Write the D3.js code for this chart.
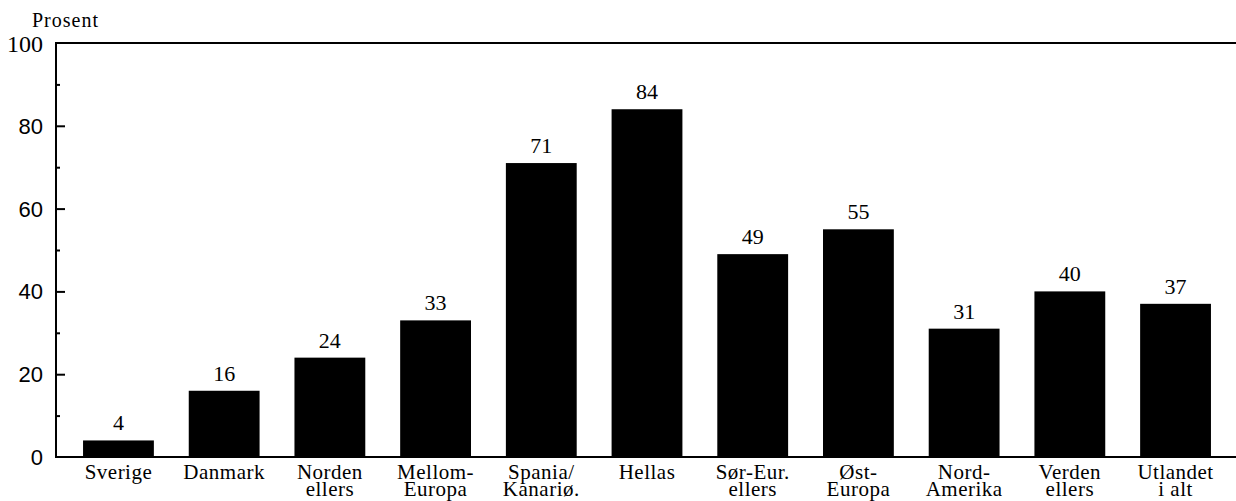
<!DOCTYPE html>
<meta charset="utf-8">
<head>
    <script src="https://cdnjs.cloudflare.com/ajax/libs/d3/7.8.5/d3.min.js"></script>
    <style>
    body { margin: 0; background: #fff; }
    .bar { fill: #000; }
    .serif { font-family: "Liberation Serif", "Times New Roman", serif; fill: #000; }
    .sans { font-family: "Liberation Sans", Arial, sans-serif; fill: #000; }
    </style>
</head>
<body>
    <script>
    // data
    var categories = [
        ["Sverige"], ["Danmark"], ["Norden", "ellers"], ["Mellom-", "Europa"],
        ["Spania/", "Kanariø."], ["Hellas"], ["Sør-Eur.", "ellers"], ["Øst-", "Europa"],
        ["Nord-", "Amerika"], ["Verden", "ellers"], ["Utlandet", "i alt"]
    ];
    var values = [4, 16, 24, 33, 71, 84, 49, 55, 31, 40, 37];
    var yTicks = [0, 20, 40, 60, 80, 100];
    var yMinor = [10, 30, 50, 70, 90];
    var yTitle = "Prosent";

    // plot frame (window.top is reserved, so use a margin object)
    var W = 1236, H = 501;
    var frame = { left: 56, right: 1236, top: 43, bottom: 457 };

    var svg = d3.select("body").append("svg")
        .attr("width", W)
        .attr("height", H);

    var keys = categories.map(function(d, i) { return i; });

    // set the ranges
    var x = d3.scaleBand()
        .domain(keys)
        .range([65.6, 1228.4])
        .paddingInner(0.33)
        .paddingOuter(0.165);
    var y = d3.scaleLinear()
        .domain([0, 100])
        .range([frame.bottom, frame.top]);

    // bars
    svg.selectAll(".bar")
        .data(values)
        .enter().append("rect")
        .attr("class", "bar")
        .attr("x", function(d, i) { return x(i); })
        .attr("width", x.bandwidth())
        .attr("y", function(d) { return y(d); })
        .attr("height", function(d) { return frame.bottom - y(d); });

    // value labels
    svg.selectAll(".val")
        .data(values)
        .enter().append("text")
        .attr("class", "serif")
        .attr("x", function(d, i) { return x(i) + x.bandwidth() / 2; })
        .attr("y", function(d) { return y(d) - 10; })
        .attr("text-anchor", "middle")
        .style("font-size", "22px")
        .text(function(d) { return d; });

    // frame: left axis, top line, bottom line
    svg.append("line")
        .attr("x1", frame.left).attr("x2", frame.left)
        .attr("y1", frame.top - 1).attr("y2", frame.bottom + 1)
        .attr("stroke", "#000").attr("stroke-width", 2);
    svg.append("line")
        .attr("x1", frame.left - 1).attr("x2", frame.right)
        .attr("y1", frame.top).attr("y2", frame.top)
        .attr("stroke", "#000").attr("stroke-width", 2);
    svg.append("line")
        .attr("x1", frame.left - 1).attr("x2", frame.right)
        .attr("y1", frame.bottom).attr("y2", frame.bottom)
        .attr("stroke", "#000").attr("stroke-width", 2);

    // y axis, ticks drawn inward
    var yAxis = svg.append("g")
        .attr("transform", "translate(" + frame.left + ",0)")
        .call(d3.axisRight(y).tickValues(yTicks.slice(1, 5)).tickSize(9).tickFormat(""));
    yAxis.select(".domain").remove();
    yAxis.selectAll("line").attr("stroke", "#000").attr("stroke-width", 2);

    var yAxisMinor = svg.append("g")
        .attr("transform", "translate(" + frame.left + ",0)")
        .call(d3.axisRight(y).tickValues(yMinor).tickSize(4).tickFormat(""));
    yAxisMinor.select(".domain").remove();
    yAxisMinor.selectAll("line").attr("stroke", "#000").attr("stroke-width", 2);

    // tick labels
    svg.selectAll(".ytl")
        .data(yTicks)
        .enter().append("text")
        .attr("class", function(d) { return d === 100 ? "serif" : "sans"; })
        .attr("x", 43)
        .attr("y", function(d) { return y(d); })
        .attr("dy", "0.36em")
        .attr("text-anchor", "end")
        .style("font-size", function(d) { return d === 100 ? "24px" : "22px"; })
        .text(function(d) { return d; });

    // category labels
    var cat = svg.selectAll(".cat")
        .data(categories)
        .enter().append("text")
        .attr("class", "serif")
        .attr("text-anchor", "middle")
        .style("font-size", "21px")
        .style("letter-spacing", "0.5px")
        .attr("transform", function(d, i) {
            return "translate(" + (x(i) + x.bandwidth() / 2) + ",479)";
        });
    cat.selectAll("tspan")
        .data(function(d) { return d; })
        .enter().append("tspan")
        .attr("x", 0)
        .attr("y", function(d, j) { return j * 17; })
        .text(function(d) { return d; });

    // axis title
    svg.append("text")
        .attr("class", "serif")
        .attr("x", 32)
        .attr("y", 27)
        .style("font-size", "20px")
        .style("letter-spacing", "1px")
        .text(yTitle);
    </script>
</body>
</html>
